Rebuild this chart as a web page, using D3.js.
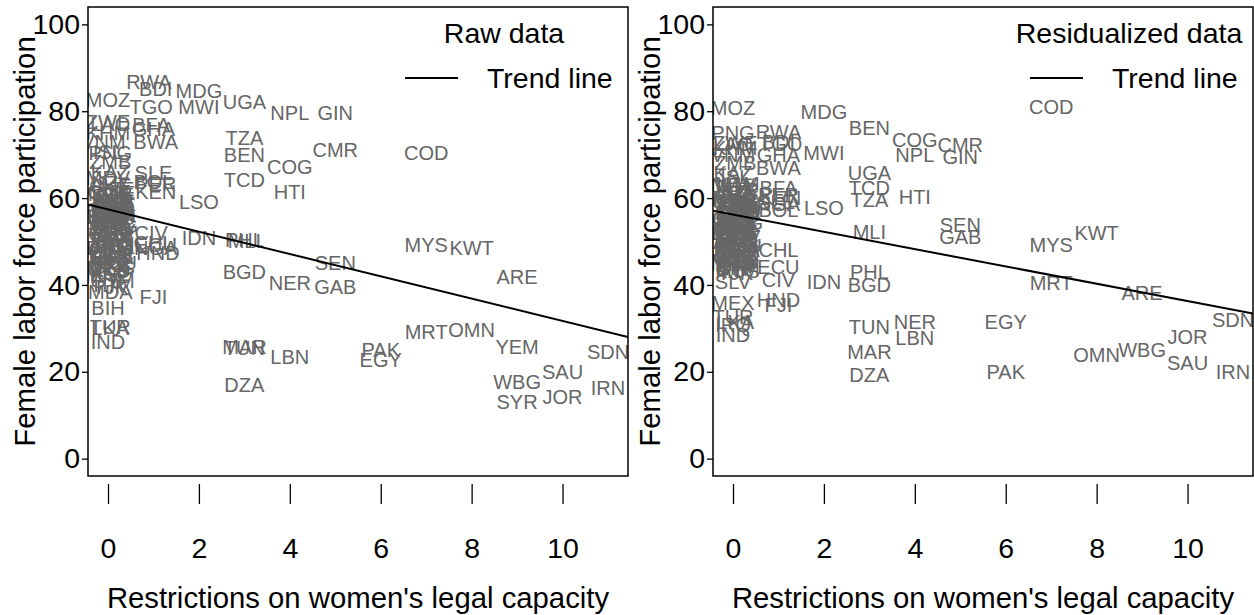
<!DOCTYPE html>
<html>
<head>
<meta charset="utf-8">
<script src="https://cdn.jsdelivr.net/npm/d3@7"></script>
<style>
  body { margin: 0; background: #fff; }
  svg { display: block; font-family: "Liberation Sans", Arial, sans-serif; }
</style>
</head>
<body>
<script>
// tick values shared by both panels
const xTicks = [0, 2, 4, 6, 8, 10];
const yTicks = [0, 20, 40, 60, 80, 100];

// trend line: [intercept, slope]
const rawTrend = [57.4, -2.57];
const residTrend = [56.2, -1.99];

// raw data: [country, restrictions, female LFP]
const rawPoints = [
  ['USA', 0.1, 56.1], ['GBR', 0, 57.2], ['FRA', 0.05, 50.6], ['DEU', 0.15, 55.3], ['ITA', 0, 40.0],
  ['ESP', 0.1, 51.9], ['PRT', 0.05, 54.3], ['NLD', 0.15, 58.0], ['BEL', 0, 47.9], ['SWE', 0.1, 61.2],
  ['NOR', 0.05, 60.9], ['DNK', 0.15, 58.6], ['FIN', 0, 55.4], ['AUT', 0.1, 54.6], ['CHE', 0.05, 62.8],
  ['IRL', 0.15, 53.2], ['CAN', 0, 61.5], ['AUS', 0.1, 59.2], ['NZL', 0.05, 63.4], ['JPN', 0.15, 50.1],
  ['MEX', 0, 44.0], ['BRA', 0.1, 53.3], ['ARG', 0.05, 48.6], ['COL', 0.15, 57.7], ['URY', 0, 55.9],
  ['PRY', 0.1, 58.4], ['CRI', 0.05, 46.5], ['PAN', 0.15, 49.5], ['SLV', 0, 46.2], ['GTM', 0.1, 41.0],
  ['JAM', 0.05, 56.7], ['POL', 0.15, 48.7], ['CZE', 0, 51.7], ['SVK', 0.1, 51.2], ['HUN', 0.05, 46.4],
  ['ROU', 0.15, 45.0], ['BGR', 0, 48.5], ['HRV', 0.1, 46.3], ['SRB', 0.05, 44.7], ['EST', 0.15, 56.6],
  ['LVA', 0, 54.8], ['LTU', 0.1, 56.2], ['UKR', 0.05, 47.0], ['BLR', 0.15, 58.0], ['RUS', 0, 55.6],
  ['GEO', 0.1, 57.6], ['ARM', 0.05, 49.3], ['MNG', 0.15, 53.6], ['THA', 0, 60.4], ['SGP', 0.1, 59.4],
  ['ZAF', 0.05, 49.0], ['ALB', 0.15, 46.6], ['MKD', 0, 43.3], ['GRC', 0.1, 44.2], ['ISR', 0.05, 59.0],
  ['CPV', 0.15, 52.4], ['TTO', 0, 51.6], ['NAM', 0.1, 56.0], ['KGZ', 0.05, 42.5], ['AZE', 0.15, 62.0],
  ['MNE', 0, 42.0], ['MUS', 0.1, 44.0], ['TJK', 0.05, 39.5], ['LBR', 0.1, 58.7], ['KOR', 0.05, 52.8],
  ['MDV', 0, 64.6], ['ZWE', 0, 77.6], ['LAO', 0.05, 77.0], ['KHM', 0, 75.0], ['VNM', -0.1, 73.0],
  ['ISL', 0, 70.7], ['PNG', 0.05, 70.4], ['ZMB', 0.05, 68.4], ['KAZ', 0.05, 66.1],
  ['MOZ', 0, 82.6], ['MDA', 0.05, 38.3], ['BIH', 0, 34.7], ['TUR', 0.05, 30.3], ['LKA', 0.05, 30.0],
  ['IND', 0, 26.8],
  ['RWA', 0.9, 86.7], ['BDI', 1.05, 85.1], ['TGO', 0.95, 80.9], ['BFA', 0.95, 76.8], ['GHA', 1.0, 75.8],
  ['BWA', 1.05, 72.9], ['SLE', 1, 65.8], ['BOL', 1.0, 63.6], ['PER', 1.05, 63.2], ['KEN', 1.05, 61.4],
  ['CIV', 0.95, 51.9], ['CHL', 1.0, 49.6], ['ECU', 1.05, 49.2], ['NGA', 1.05, 48.6], ['HND', 1.1, 47.3],
  ['FJI', 1, 37.2],
  ['MDG', 2, 84.6], ['MWI', 2, 80.9], ['LSO', 2, 59.1], ['IDN', 2, 50.8],
  ['UGA', 3, 82.2], ['TZA', 3, 73.8], ['BEN', 3, 69.9], ['TCD', 3, 64.1], ['PHL', 3, 50.3],
  ['MLI', 3, 50.1], ['BGD', 3, 43.0], ['TUN', 3, 25.4], ['MAR', 3, 25.6], ['DZA', 3, 16.9],
  ['NPL', 4, 79.6], ['COG', 4, 67.1], ['HTI', 4, 61.4], ['NER', 4, 40.4], ['LBN', 4, 23.4],
  ['GIN', 5, 79.6], ['CMR', 5, 71.0], ['SEN', 5, 45.0], ['GAB', 5, 39.5],
  ['PAK', 6, 25.0], ['EGY', 6, 22.7],
  ['COD', 7, 70.4], ['MYS', 7, 49.2], ['MRT', 7, 29.1],
  ['KWT', 8, 48.5], ['OMN', 8, 29.6],
  ['ARE', 9, 41.8], ['YEM', 9, 25.7], ['WBG', 9, 17.6], ['SYR', 9, 13.0],
  ['SAU', 10, 19.9], ['JOR', 10, 14.2],
  ['SDN', 11, 24.5], ['IRN', 11, 16.2]
];

// residualized data: [country, restrictions, female LFP]
const residPoints = [
  ['USA', 0.1, 54.0], ['GBR', 0, 55.2], ['FRA', 0.05, 52.1], ['DEU', 0.15, 56.8], ['ITA', 0, 45.9],
  ['ESP', 0.1, 50.7], ['PRT', 0.05, 53.4], ['NLD', 0.15, 57.1], ['BEL', 0, 49.6], ['SWE', 0.1, 58.3],
  ['NOR', 0.05, 59.6], ['DNK', 0.15, 57.9], ['FIN', 0, 56.1], ['AUT', 0.1, 55.0], ['CHE', 0.05, 60.5],
  ['IRL', 0.15, 52.6], ['CAN', 0, 59.0], ['AUS', 0.1, 58.0], ['NZL', 0.05, 61.2], ['JPN', 0.15, 49.0],
  ['BRA', 0.1, 51.4], ['ARG', 0.05, 47.7], ['COL', 0.15, 53.8], ['URY', 0, 54.6], ['PRY', 0.1, 44.7],
  ['CRI', 0.05, 44.3], ['PAN', 0.15, 47.2], ['GTM', 0.1, 43.6], ['JAM', 0.05, 56.3], ['POL', 0.15, 50.2],
  ['CZE', 0, 53.1], ['SVK', 0.1, 52.3], ['HUN', 0.05, 48.3], ['ROU', 0.15, 48.9], ['BGR', 0, 51.9],
  ['HRV', 0.1, 47.5], ['SRB', 0.05, 46.1], ['EST', 0.15, 57.4], ['LVA', 0, 56.9], ['LTU', 0.1, 58.8],
  ['UKR', 0.05, 50.4], ['BLR', 0.15, 61.8], ['RUS', 0, 60.1], ['GEO', 0.1, 55.9], ['ARM', 0.05, 49.8],
  ['MNG', 0.15, 54.2], ['THA', 0, 62.6], ['SGP', 0.1, 57.8], ['ZAF', 0.05, 46.8], ['ALB', 0.15, 45.2],
  ['MKD', 0, 44.8], ['GRC', 0.1, 46.4], ['ISR', 0.05, 56.5], ['CPV', 0.15, 51.0], ['TTO', 0, 49.3],
  ['KGZ', 0.05, 50.9], ['AZE', 0.15, 61.5], ['MNE', 0, 45.6], ['MUS', 0.1, 43.1], ['TJK', 0.05, 42.7],
  ['MDA', 0.1, 48.0], ['BIH', 0, 44.0], ['LBR', 0.1, 59.3], ['KOR', 0.05, 52.8], ['NAM', 0.1, 63.3],
  ['MDV', 0, 62.9], ['ISL', 0.05, 64.8], ['KAZ', 0, 65.8], ['ZMB', 0.05, 68.1], ['VNM', 0, 69.9],
  ['KHM', 0.05, 71.5], ['LAO', 0, 72.4], ['ZWE', 0.05, 72.7], ['PNG', 0, 75.0], ['MOZ', 0, 80.7],
  ['SLV', 0, 40.6], ['MEX', 0, 35.8], ['TUR', 0, 32.6], ['LKA', 0.05, 31.4], ['IRQ', 0, 30.7],
  ['IND', 0, 28.4],
  ['RWA', 1, 75.2], ['BDI', 1, 72.9], ['TGO', 1.05, 72.4], ['GHA', 1, 69.9], ['BWA', 1, 66.9],
  ['BFA', 1, 62.3], ['PER', 1, 60.6], ['KEN', 1.05, 60.0], ['SLE', 0.95, 59.0], ['NGA', 1, 58.7],
  ['BOL', 1, 57.2], ['CHL', 1, 48.0], ['ECU', 1, 44.1], ['CIV', 1, 41.1], ['HND', 1, 36.5],
  ['FJI', 1, 35.4],
  ['MDG', 2, 79.8], ['MWI', 2, 70.4], ['LSO', 2, 57.7], ['IDN', 2, 40.6],
  ['BEN', 3, 76.1], ['UGA', 3, 65.8], ['TCD', 3, 62.3], ['TZA', 3, 59.5], ['MLI', 3, 52.2],
  ['PHL', 3, 43.0], ['BGD', 3, 40.0], ['TUN', 3, 30.3], ['MAR', 3, 24.5], ['DZA', 3, 19.2],
  ['COG', 4, 73.4], ['NPL', 4, 69.9], ['HTI', 4, 60.2], ['NER', 4, 31.4], ['LBN', 4, 27.8],
  ['CMR', 5, 72.2], ['GIN', 5, 69.4], ['SEN', 5, 53.8], ['GAB', 5, 51.0],
  ['EGY', 6, 31.4], ['PAK', 6, 19.9],
  ['COD', 7, 81.0], ['MYS', 7, 49.2], ['MRT', 7, 40.4],
  ['KWT', 8, 51.9], ['OMN', 8, 23.8],
  ['ARE', 9, 38.1], ['WBG', 9, 25.0],
  ['JOR', 10, 28.0], ['SAU', 10, 22.0],
  ['SDN', 11, 31.9], ['IRN', 11, 19.9]
];

const width = 1254, height = 615;
const plotTop = 7, plotBottom = 476;
const bigFont = 28.5;
const titleFont = 29.3;

const panels = [
  {id: 'raw', left: 88, right: 628, points: rawPoints, trend: rawTrend, title: 'Raw data'},
  {id: 'resid', left: 713, right: 1253, points: residPoints, trend: residTrend, title: 'Residualized data'}
];

const svg = d3.select(document.body).append('svg')
  .attr('width', width)
  .attr('height', height);

panels.forEach(p => {
  const x = d3.scaleLinear().domain([-0.44, 11.44]).range([p.left, p.right]);
  const y = d3.scaleLinear().domain([-4, 104]).range([plotBottom, plotTop]);

  svg.append('clipPath').attr('id', `clip-${p.id}`)
    .append('rect')
    .attr('x', p.left).attr('y', plotTop)
    .attr('width', p.right - p.left).attr('height', plotBottom - plotTop);

  const plot = svg.append('g').attr('clip-path', `url(#clip-${p.id})`);

  // country labels
  plot.selectAll('text.code')
    .data(p.points)
    .enter().append('text')
    .attr('class', 'code')
    .attr('x', d => x(d[1]))
    .attr('y', d => y(d[2]))
    .attr('dy', '0.35em')
    .attr('text-anchor', 'middle')
    .attr('font-size', 20)
    .attr('fill', '#666')
    .text(d => d[0]);

  // trend line
  const xd = x.domain();
  plot.append('line')
    .attr('x1', x(xd[0])).attr('y1', y(p.trend[0] + p.trend[1] * xd[0]))
    .attr('x2', x(xd[1])).attr('y2', y(p.trend[0] + p.trend[1] * xd[1]))
    .attr('stroke', '#000')
    .attr('stroke-width', 2);

  // box
  svg.append('rect')
    .attr('x', p.left).attr('y', plotTop)
    .attr('width', p.right - p.left).attr('height', plotBottom - plotTop)
    .attr('fill', 'none')
    .attr('stroke', '#000')
    .attr('stroke-width', 1.5);

  // y axis
  const yAxis = svg.append('g')
    .attr('transform', `translate(${p.left},0)`)
    .call(d3.axisLeft(y).tickValues(yTicks).tickSize(6).tickPadding(2));
  yAxis.select('.domain').remove();

  // x axis, detached below the box
  const xAxis = svg.append('g')
    .attr('transform', 'translate(0,484)')
    .call(d3.axisBottom(x).tickValues(xTicks).tickSize(20).tickPadding(34));
  xAxis.select('.domain').remove();

  [yAxis, xAxis].forEach(a => {
    a.selectAll('text')
      .attr('font-size', bigFont)
      .attr('font-family', '"Liberation Sans", Arial, sans-serif')
      .attr('fill', '#000');
    a.selectAll('line').attr('stroke', '#000').attr('stroke-width', 1.3);
  });

  // axis titles
  svg.append('text')
    .attr('x', (p.left + p.right) / 2)
    .attr('y', 598)
    .attr('dy', '0.35em')
    .attr('text-anchor', 'middle')
    .attr('font-size', titleFont)
    .text("Restrictions on women's legal capacity");

  svg.append('text')
    .attr('transform', `translate(${p.left - 63},${(plotTop + plotBottom) / 2}) rotate(-90)`)
    .attr('dy', '0.35em')
    .attr('text-anchor', 'middle')
    .attr('font-size', titleFont)
    .text('Female labor force participation');

  // legend
  const lg = svg.append('g').attr('font-size', bigFont);
  lg.append('text')
    .attr('x', p.right - 124).attr('y', 33)
    .attr('dy', '0.35em')
    .attr('text-anchor', 'middle')
    .text(p.title);
  lg.append('line')
    .attr('x1', p.right - 223).attr('x2', p.right - 170)
    .attr('y1', 78).attr('y2', 78)
    .attr('stroke', '#000')
    .attr('stroke-width', 2);
  lg.append('text')
    .attr('x', p.right - 141).attr('y', 78)
    .attr('dy', '0.35em')
    .text('Trend line');
});
</script>
</body>
</html>
